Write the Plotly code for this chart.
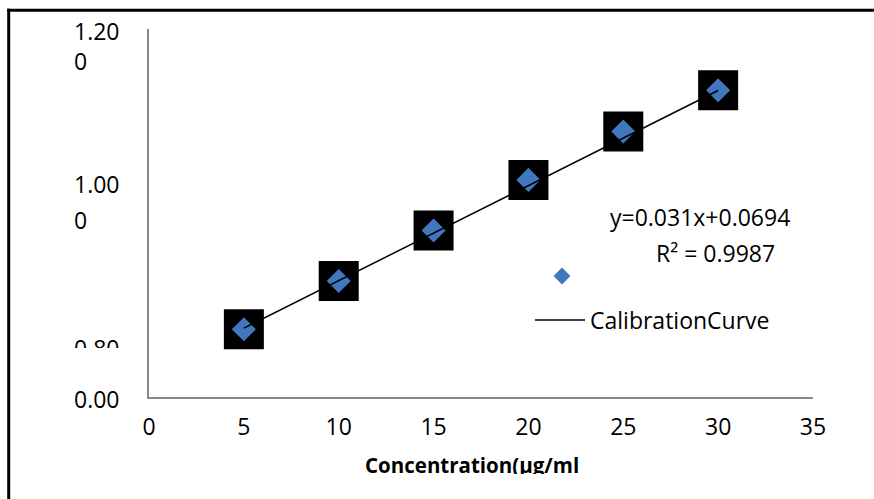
import plotly.graph_objects as go

# Calibration standards: concentration (µg/ml) vs measured absorbance
concentration = [5, 10, 15, 20, 25, 30]
absorbance = [0.221, 0.378, 0.543, 0.708, 0.866, 1.000]

# Linear calibration fit
slope = 0.031
intercept = 0.0694
r_squared = 0.9987

x_tick_values = [0, 5, 10, 15, 20, 25, 30, 35]
y_tick_labels = ["1.20<br>0", "1.00", "0", "0.80", "0.00"]

FONT = "Open Sans"
W, H = 874, 499
L, R, T, B = 149, 61, 29, 102
PW, PH = W - L - R, H - T - B


def px(xp):
    return (xp - L) / PW


def py(yp):
    return (H - B - yp) / PH


fit_x = [concentration[0], concentration[-1]]
fit_y = [slope * v + intercept for v in fit_x]

fig = go.Figure()

# dark backing squares behind each standard
fig.add_trace(go.Scatter(
    x=concentration, y=absorbance, mode="markers",
    marker=dict(symbol="square", size=40, color="black"),
    showlegend=False, hoverinfo="skip",
))
# standards
fig.add_trace(go.Scatter(
    x=concentration, y=absorbance, mode="markers",
    marker=dict(symbol="diamond", size=18.5, color="#4277bd", line=dict(width=0)),
    showlegend=False,
))
# fitted line
fig.add_trace(go.Scatter(
    x=fit_x, y=fit_y, mode="lines", name="CalibrationCurve",
    line=dict(color="black", width=1.5),
    legend="legend2",
))
# legend key for the standards
fig.add_trace(go.Scatter(
    x=[None], y=[None], mode="markers", name=" ",
    marker=dict(symbol="diamond", size=13, color="#4277bd", line=dict(width=0)),
    legend="legend",
))

label_font = dict(family=FONT, size=23, color="black")
annotations = []
# y-axis labels
for text, yc in zip([y_tick_labels[0], y_tick_labels[1], y_tick_labels[2], y_tick_labels[4]],
                    [46, 183.5, 220, 399]):
    annotations.append(dict(
        text=text, x=px(72), y=py(yc), xref="paper", yref="paper",
        xanchor="left", yanchor="middle", align="left", showarrow=False,
        font=label_font,
    ))
# partially hidden "0.80" label
annotations.append(dict(
    text=y_tick_labels[3], x=px(72), y=py(330), xref="paper", yref="paper",
    xanchor="left", yanchor="top", valign="top", height=16, showarrow=False,
    font=label_font,
))
# x-axis title
annotations.append(dict(
    text="<b>Concentration(µg/ml</b>", x=px(472), y=py(449), xref="paper", yref="paper",
    xanchor="center", yanchor="top", valign="top", height=23, showarrow=False,
    font=dict(family=FONT, size=20.5, color="black"),
))
# fit equation
annotations.append(dict(
    text=f"y={slope}x+{intercept}", x=px(700), y=py(217), xref="paper", yref="paper",
    xanchor="center", yanchor="middle", showarrow=False, font=label_font,
))
annotations.append(dict(
    text=f"R² = {r_squared}", x=px(715), y=py(253), xref="paper", yref="paper",
    xanchor="center", yanchor="middle", showarrow=False, font=label_font,
))

# outer frame: left and top edges, running off the page
frame = [
    dict(type="line", xref="paper", yref="paper",
         x0=px(8.7), y0=py(8.8), x1=px(8.7), y1=py(H)),
    dict(type="line", xref="paper", yref="paper",
         x0=px(7.2), y0=py(10.3), x1=px(W), y1=py(10.3)),
]
for s in frame:
    s["line"] = dict(color="black", width=3)

fig.update_layout(
    width=W, height=H,
    margin=dict(l=L, r=R, t=T, b=B),
    paper_bgcolor="white", plot_bgcolor="white",
    font=dict(family=FONT, size=23, color="black"),
    xaxis=dict(
        range=[0, 35], tickvals=x_tick_values, showgrid=False, zeroline=False,
        showline=True, linecolor="#898989", linewidth=2,
        ticks="outside", ticklen=8, tickcolor="rgba(0,0,0,0)",
        tickfont=label_font,
    ),
    yaxis=dict(
        range=[0, 1.2], showgrid=False, zeroline=False, showticklabels=False,
        showline=True, linecolor="#898989", linewidth=2, ticks="",
    ),
    legend=dict(
        x=px(534), y=py(276), xanchor="left", yanchor="middle",
        bgcolor="rgba(0,0,0,0)", borderwidth=0, itemwidth=46,
        font=label_font,
    ),
    legend2=dict(
        x=px(530), y=py(320), xanchor="left", yanchor="middle",
        bgcolor="rgba(0,0,0,0)", borderwidth=0, itemwidth=50,
        font=label_font,
    ),
    annotations=annotations,
    shapes=frame,
)

# keep the page itself free of margins and scrollbars
page_css = (
    "document.documentElement.style.overflow='hidden';"
    "document.body.style.overflow='hidden';"
    "document.body.style.margin='0';"
)

fig.write_html("out.html", config={"displayModeBar": False}, post_script=page_css)
